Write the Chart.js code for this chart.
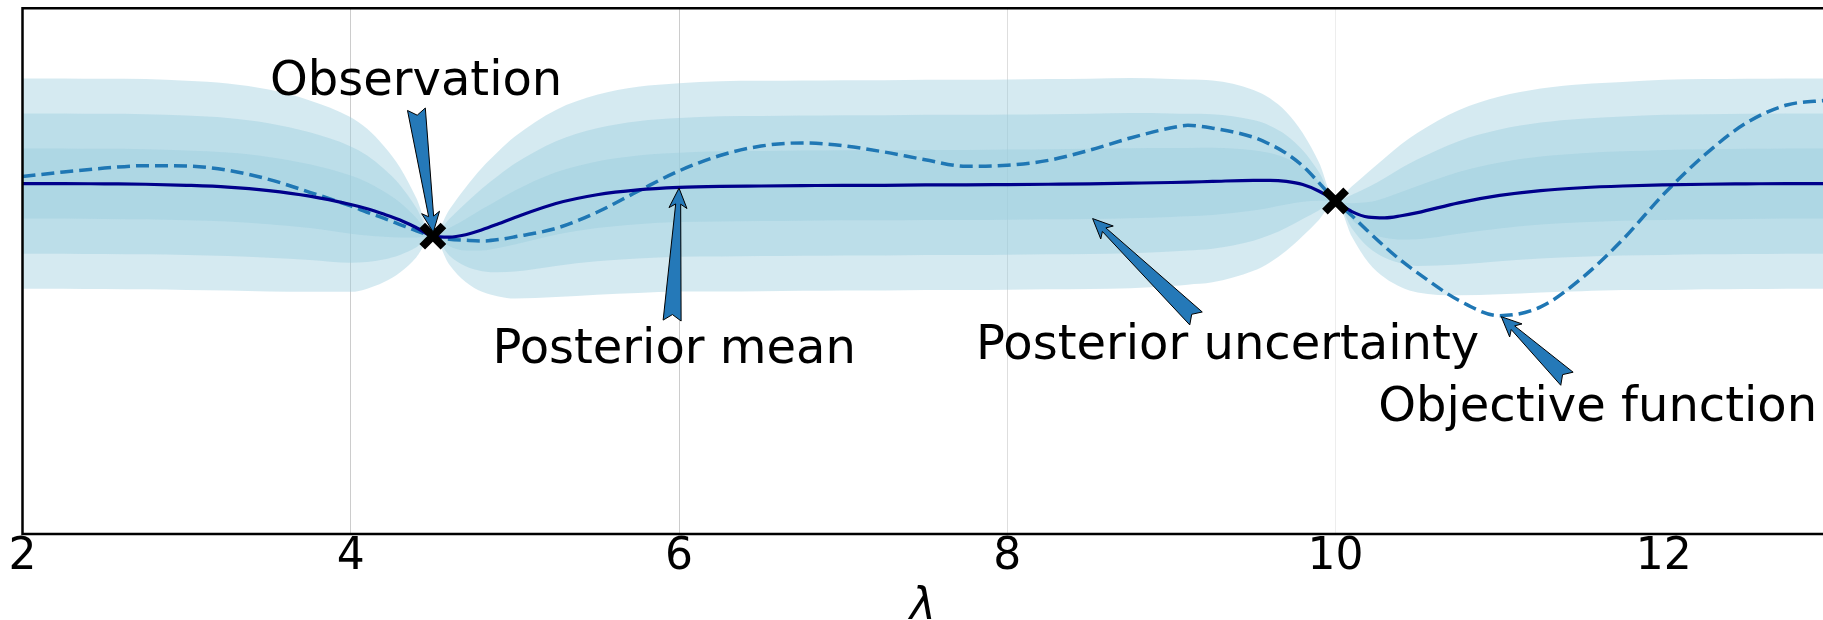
<!DOCTYPE html>
<html>
<head>
<meta charset="utf-8">
<script src="https://cdn.jsdelivr.net/npm/chart.js@4.4.1/dist/chart.umd.min.js"></script>
<style>
  html, body { margin: 0; padding: 0; background: #fff; }
</style>
</head>
<body>
<canvas id="grafico" width="1823" height="620"></canvas>
<script>
// valores
const lambdas = [2.0, 2.25, 2.5, 2.75, 3.0, 3.25, 3.5, 3.75, 4.0, 4.1, 4.2, 4.3, 4.4, 4.5, 4.6, 4.7, 4.8, 4.9, 5.0,
  5.25, 5.5, 5.75, 6.0, 6.25, 6.5, 6.75, 7.0, 7.25, 7.5, 7.75, 8.0, 8.25, 8.5, 8.75, 9.0, 9.1, 9.25, 9.5, 9.6, 9.7, 9.8,
  9.9, 10.0, 10.1, 10.2, 10.3, 10.4, 10.5, 10.75, 11.0, 11.25, 11.5, 11.75, 12.0, 12.25, 12.5, 12.75, 13.0];

const posteriorMean = [0.0, 0.0, -0.01, -0.02, -0.05, -0.1, -0.2, -0.36, -0.6, -0.72, -0.87, -1.04, -1.26, -1.5, -1.53, -1.46, -1.32, -1.15, -0.97,
  -0.57, -0.32, -0.18, -0.11, -0.08, -0.07, -0.06, -0.05, -0.05, -0.04, -0.04, -0.03, -0.02, -0.01, 0.01, 0.03, 0.04, 0.06, 0.09, 0.09, 0.06, -0.03,
  -0.22, -0.5, -0.8, -0.96, -0.98, -0.92, -0.83, -0.55, -0.34, -0.2, -0.12, -0.07, -0.04, -0.02, -0.01, 0.0, 0.0];

const posteriorStd = [1.0, 1.0, 1.0, 1.0, 0.995, 0.985, 0.96, 0.91, 0.83, 0.76, 0.65, 0.5, 0.28, 0.0, 0.26, 0.45, 0.59, 0.69, 0.77,
  0.89, 0.95, 0.98, 0.99, 1.0, 1.0, 1.0, 1.0, 1.0, 1.0, 1.0, 1.0, 1.0, 1.0, 1.0, 0.985, 0.975, 0.96, 0.86, 0.78, 0.66, 0.49,
  0.27, 0.0, 0.24, 0.43, 0.57, 0.68, 0.76, 0.88, 0.94, 0.97, 0.985, 0.99, 1.0, 1.0, 1.0, 1.0, 1.0];

const objective = [0.2, 0.33, 0.44, 0.51, 0.5, 0.38, 0.12, -0.25, -0.64, -0.82, -0.99, -1.17, -1.35, -1.5, -1.59, -1.62, -1.64, -1.6, -1.52,
  -1.28, -0.82, -0.22, 0.36, 0.8, 1.07, 1.16, 1.08, 0.9, 0.68, 0.49, 0.52, 0.66, 0.95, 1.3, 1.59, 1.66, 1.58, 1.32, 1.12, 0.86, 0.5,
  0.02, -0.5, -0.92, -1.37, -1.8, -2.2, -2.55, -3.33, -3.77, -3.52, -2.7, -1.6, -0.3, 0.82, 1.72, 2.24, 2.38];

const obsX = [4.5, 10.0];
const obsY = [-1.5, -0.5];

const tickValues = [2, 4, 6, 8, 10, 12];
const bandSigmas = [1, 2, 3];

// anotaciones (coordenadas en datos)
const notes = [
  { text: 'Observation', tx: 3.508, ty: 2.52, from: [4.40, 2.12], to: [4.503, -1.39] },
  { text: 'Posterior mean', tx: 4.863, ty: -5.11, from: [5.958, -3.91], to: [6.0, -0.13] },
  { text: 'Posterior uncertainty', tx: 7.81, ty: -5.0, from: [9.15, -3.85], to: [8.52, -1.0] },
  { text: 'Objective function', tx: 10.26, ty: -6.77, from: [11.41, -5.57], to: [11.01, -3.8] }
];

const gridShades = ['rgba(0,0,0,0)', 'rgba(0,0,0,0.2)', 'rgba(0,0,0,0.2)', 'rgba(0,0,0,0.13)', 'rgba(0,0,0,0.07)', 'rgba(0,0,0,0)'];
const bandColor = 'rgba(155,205,222,0.42)';
const FONT = '"DejaVu Sans", sans-serif';

const pts = (ys) => lambdas.map((x, i) => ({ x: x, y: ys[i] }));

const bandSets = [];
bandSigmas.forEach(function (k, j) {
  const upper = posteriorMean.map((m, i) => m + k * posteriorStd[i]);
  const lower = posteriorMean.map((m, i) => m - k * posteriorStd[i]);
  const idx = 3 + j * 2;
  bandSets.push({
    data: pts(upper), borderWidth: 0, pointRadius: 0, fill: idx + 1,
    backgroundColor: bandColor, cubicInterpolationMode: 'monotone', order: 3 + j
  });
  bandSets.push({
    data: pts(lower), borderWidth: 0, pointRadius: 0, fill: false,
    cubicInterpolationMode: 'monotone', order: 3 + j
  });
});

function fancyArrow(ctx, x0, y0, x1, y1) {
  const dx = x1 - x0, dy = y1 - y0, L = Math.hypot(dx, dy);
  const ux = dx / L, uy = dy / L, nx = -uy, ny = ux;
  const P = (s, w) => [x0 + ux * s + nx * w, y0 + uy * s + ny * w];
  const tail = 9, neck = 2.5, head = 9, hl = 20, notch = 6;
  const poly = [P(0, tail), P(L - hl + 4, neck), P(L - hl, head), P(L, 0),
    P(L - hl, -head), P(L - hl + 4, -neck), P(0, -tail), P(notch, 0)];
  ctx.beginPath();
  ctx.moveTo(poly[0][0], poly[0][1]);
  for (let i = 1; i < poly.length; i++) ctx.lineTo(poly[i][0], poly[i][1]);
  ctx.closePath();
  ctx.fillStyle = '#2579b8';
  ctx.fill();
  ctx.lineWidth = 1;
  ctx.strokeStyle = '#000';
  ctx.stroke();
}

const decoraciones = {
  id: 'decoraciones',
  afterDatasetsDraw(chart) {
    const ctx = chart.ctx, a = chart.chartArea;
    const sx = chart.scales.x, sy = chart.scales.y;
    ctx.save();
    // marco
    ctx.strokeStyle = '#000';
    ctx.lineWidth = 2.5;
    ctx.beginPath();
    ctx.moveTo(a.right + 2, a.top);
    ctx.lineTo(a.left, a.top);
    ctx.lineTo(a.left, a.bottom);
    ctx.lineTo(a.right + 2, a.bottom);
    ctx.stroke();
    // flechas y textos
    notes.forEach(function (n) {
      fancyArrow(ctx, sx.getPixelForValue(n.from[0]), sy.getPixelForValue(n.from[1]),
        sx.getPixelForValue(n.to[0]), sy.getPixelForValue(n.to[1]));
    });
    ctx.fillStyle = '#000';
    ctx.font = '48px ' + FONT;
    ctx.textAlign = 'left';
    ctx.textBaseline = 'alphabetic';
    notes.forEach(function (n) {
      ctx.fillText(n.text, sx.getPixelForValue(n.tx), sy.getPixelForValue(n.ty));
    });
    ctx.restore();
  }
};

new Chart(document.getElementById('grafico').getContext('2d'), {
  type: 'line',
  data: {
    datasets: [
      {
        data: obsX.map((x, i) => ({ x: x, y: obsY[i] })), showLine: false,
        pointStyle: 'crossRot', pointRadius: 15, pointBorderWidth: 8,
        pointBorderColor: '#000', pointBackgroundColor: '#000', order: 0
      },
      {
        data: pts(posteriorMean), borderColor: '#00008b', borderWidth: 3.2,
        pointRadius: 0, fill: false, cubicInterpolationMode: 'monotone', order: 1
      },
      {
        data: pts(objective), borderColor: '#1f77b4', borderWidth: 3.5, borderDash: [13, 6],
        pointRadius: 0, fill: false, cubicInterpolationMode: 'monotone', order: 2
      }
    ].concat(bandSets)
  },
  options: {
    responsive: false,
    animation: false,
    devicePixelRatio: 1,
    layout: { autoPadding: false, padding: { left: 22.5, top: 8.3, right: 0, bottom: 0 } },
    plugins: { legend: { display: false }, tooltip: { enabled: false } },
    scales: {
      x: {
        type: 'linear', min: 2, max: 12.97, position: 'bottom',
        afterBuildTicks: (axis) => { axis.ticks = tickValues.map(v => ({ value: v })); },
        grid: { color: (c) => gridShades[c.index] || 'rgba(0,0,0,0)', lineWidth: 1, drawTicks: false },
        border: { display: false },
        ticks: {
          color: '#000', padding: 2, maxRotation: 0, autoSkip: false,
          font: { family: FONT, size: 44, lineHeight: 1.0 },
          callback: (v) => String(v)
        },
        title: {
          display: true, text: 'λ', color: '#000',
          font: { family: FONT, size: 44, style: 'italic', lineHeight: 0.3 },
          padding: { top: 19.4, bottom: 5.4 }
        }
      },
      y: {
        type: 'linear', min: -10, max: 5, display: false
      }
    }
  },
  plugins: [decoraciones]
});
</script>
</body>
</html>
